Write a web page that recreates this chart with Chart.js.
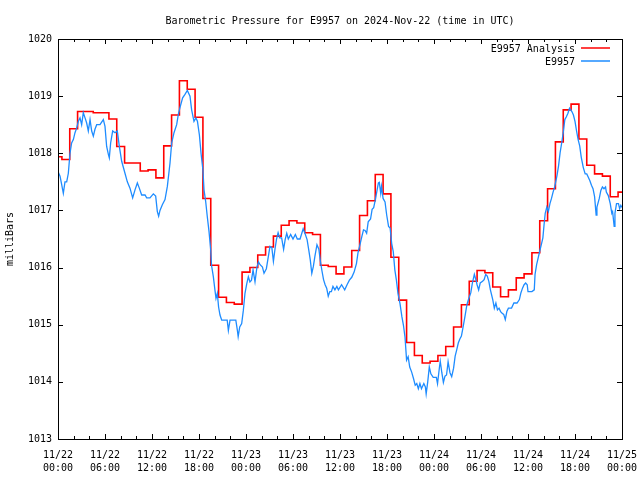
<!DOCTYPE html>
<html>
<head>
<meta charset="utf-8">
<script src="https://cdn.jsdelivr.net/npm/chart.js@4/dist/chart.umd.min.js"></script>
<style>
	html, body { margin: 0; padding: 0; background: #fff; }
	#wrap { width: 640px; height: 480px; }
</style>
</head>
<body>
<div id="wrap"><canvas id="chart" width="640" height="480"></canvas></div>
<script>
// hourly analysis values, hour 0 = 11/22 00:00 UTC
const analysisHours = [
	0, 1, 2, 3, 4, 5, 6, 7, 8, 9, 10, 11, 12, 13, 14, 15, 16, 17, 18, 19, 20, 21, 22, 23,
	24, 25, 26, 27, 28, 29, 30, 31, 32, 33, 34, 35, 36, 37, 38, 39, 40, 41, 42, 43, 44, 45, 46, 47,
	48, 49, 50, 51, 52, 53, 54, 55, 56, 57, 58, 59, 60, 61, 62, 63, 64, 65, 66, 67, 68, 69, 70, 71, 72
];
const analysisPressure = [
	1017.94, 1017.89, 1018.43, 1018.73, 1018.73, 1018.71, 1018.71, 1018.60, 1018.12, 1017.83, 1017.83, 1017.69,
	1017.71, 1017.57, 1018.13, 1018.67, 1019.27, 1019.12, 1018.63, 1017.21, 1016.04, 1015.48, 1015.39, 1015.36,
	1015.92, 1016.00, 1016.22, 1016.36, 1016.55, 1016.74, 1016.82, 1016.78, 1016.61, 1016.58, 1016.04, 1016.02,
	1015.89, 1016.01, 1016.30, 1016.91, 1017.17, 1017.63, 1017.29, 1016.18, 1015.43, 1014.69, 1014.46, 1014.33,
	1014.36, 1014.46, 1014.62, 1014.96, 1015.35, 1015.76, 1015.95, 1015.91, 1015.66, 1015.49, 1015.61, 1015.82,
	1015.89, 1016.26, 1016.82, 1017.38, 1018.20, 1018.76, 1018.86, 1018.25, 1017.79, 1017.64, 1017.60, 1017.24,
	1017.32
];

// station observations
const obsHours = [
	0.0, 0.26, 0.47, 0.68, 0.89, 1.11, 1.32, 1.53, 1.74, 1.96, 2.17, 2.38, 2.6, 2.81, 3.02, 3.23, 3.45, 3.66,
	3.87, 4.09, 4.3, 4.51, 4.72, 4.94, 5.36, 5.79, 6.0, 6.21, 6.43, 6.55, 6.72, 6.98, 7.28, 7.57, 7.83, 8.13,
	8.55, 8.85, 9.19, 9.53, 9.83, 10.13, 10.38, 10.68, 11.11, 11.32, 11.74, 12.17, 12.47, 12.68, 12.85, 13.02,
	13.32, 13.66, 13.96, 14.3, 14.51, 14.81, 15.15, 15.36, 15.57, 15.91, 16.21, 16.51, 16.85, 17.06, 17.36, 17.6,
	17.8, 18.05, 18.26, 18.5, 18.64, 18.85, 19.06, 19.28, 19.5, 19.6, 19.83, 20.04, 20.17, 20.34, 20.5, 20.68,
	20.9, 21.3, 21.6, 21.75, 21.96, 22.4, 22.7, 22.9, 23.0, 23.2, 23.45, 23.66, 23.87, 24.1, 24.3, 24.5,
	24.7, 24.9, 25.15, 25.4, 25.6, 25.8, 26.1, 26.3, 26.6, 26.85, 27.06, 27.3, 27.5, 27.7, 27.9, 28.1,
	28.3, 28.55, 28.8, 29.0, 29.2, 29.4, 29.7, 30.0, 30.3, 30.55, 30.9, 31.3, 31.5, 31.8, 32.0, 32.2,
	32.4, 32.6, 32.8, 33.06, 33.3, 33.5, 33.7, 33.9, 34.1, 34.3, 34.5, 34.7, 34.9, 35.1, 35.35, 35.6,
	35.8, 36.2, 36.6, 36.9, 37.2, 37.5, 37.8, 38.1, 38.3, 38.55, 38.8, 39.0, 39.2, 39.4, 39.6, 39.9,
	40.1, 40.3, 40.5, 40.7, 40.9, 41.02, 41.2, 41.3, 41.5, 41.75, 41.96, 42.2, 42.4, 42.6, 42.8, 43.0,
	43.2, 43.4, 43.66, 43.9, 44.1, 44.3, 44.5, 44.7, 44.9, 45.15, 45.4, 45.6, 45.8, 46.0, 46.2, 46.4,
	46.7, 46.9, 47.0, 47.2, 47.4, 47.6, 47.9, 48.3, 48.45, 48.7, 48.8, 49.0, 49.2, 49.4, 49.6, 49.8,
	50.04, 50.26, 50.5, 50.7, 50.9, 51.1, 51.3, 51.5, 51.7, 51.96, 52.2, 52.4, 52.7, 52.9, 53.15, 53.4,
	53.5, 53.7, 53.9, 54.2, 54.4, 54.6, 54.8, 55.0, 55.2, 55.5, 55.7, 55.9, 56.1, 56.3, 56.5, 56.7,
	56.9, 57.1, 57.3, 57.5, 57.9, 58.2, 58.6, 58.9, 59.1, 59.3, 59.5, 59.7, 59.9, 60.0, 60.5, 60.8,
	60.9, 61.1, 61.3, 61.5, 61.7, 61.9, 62.05, 62.2, 62.4, 62.6, 62.8, 63.0, 63.2, 63.4, 63.7, 63.9,
	64.1, 64.3, 64.5, 64.7, 64.9, 65.1, 65.3, 65.6, 65.8, 66.0, 66.2, 66.4, 66.6, 66.8, 67.06, 67.3,
	67.5, 67.7, 67.9, 68.1, 68.3, 68.5, 68.7, 68.8, 69.1, 69.3, 69.5, 69.7, 69.9, 70.0, 70.25, 70.5,
	70.7, 70.8, 71.0, 71.1, 71.3, 71.55, 71.7, 71.85, 72.0
];
const obsPressure = [
	1017.68, 1017.60, 1017.45, 1017.30, 1017.50, 1017.50, 1017.65, 1018.00, 1018.18, 1018.24, 1018.36, 1018.44,
	1018.56, 1018.62, 1018.50, 1018.71, 1018.62, 1018.53, 1018.39, 1018.59, 1018.39, 1018.30, 1018.42, 1018.50,
	1018.50, 1018.59, 1018.47, 1018.12, 1017.98, 1017.92, 1018.18, 1018.39, 1018.36, 1018.39, 1018.12, 1017.86,
	1017.65, 1017.50, 1017.39, 1017.22, 1017.36, 1017.48, 1017.39, 1017.27, 1017.27, 1017.22, 1017.22, 1017.29,
	1017.25, 1016.98, 1016.90, 1017.00, 1017.10, 1017.19, 1017.42, 1017.83, 1018.18, 1018.36, 1018.50, 1018.68,
	1018.80, 1018.97, 1019.03, 1019.10, 1019.00, 1018.76, 1018.56, 1018.62, 1018.56, 1018.32, 1018.00, 1017.71,
	1017.36, 1017.16, 1016.89, 1016.63, 1016.30, 1016.04, 1015.84, 1015.60, 1015.46, 1015.55, 1015.31, 1015.17,
	1015.08, 1015.08, 1015.08, 1014.90, 1015.08, 1015.08, 1015.08, 1014.90, 1014.79, 1014.96, 1015.02, 1015.25,
	1015.55, 1015.72, 1015.84, 1015.75, 1015.78, 1015.96, 1015.75, 1016.01, 1016.10, 1016.05, 1016.01, 1015.90,
	1015.98, 1016.19, 1016.37, 1016.35, 1016.11, 1016.32, 1016.50, 1016.61, 1016.52, 1016.52, 1016.32, 1016.49,
	1016.60, 1016.50, 1016.58, 1016.50, 1016.58, 1016.50, 1016.50, 1016.68, 1016.61, 1016.49, 1016.32, 1016.14,
	1015.90, 1016.02, 1016.20, 1016.40, 1016.32, 1016.11, 1015.94, 1015.79, 1015.70, 1015.64, 1015.50, 1015.58,
	1015.58, 1015.67, 1015.61, 1015.67, 1015.61, 1015.70, 1015.61, 1015.70, 1015.78, 1015.83, 1015.92, 1016.07,
	1016.26, 1016.40, 1016.55, 1016.66, 1016.65, 1016.60, 1016.80, 1016.85, 1017.02, 1017.05, 1017.18, 1017.33,
	1017.48, 1017.49, 1017.30, 1017.42, 1017.21, 1017.15, 1016.92, 1016.72, 1016.69, 1016.42, 1016.28, 1015.96,
	1015.78, 1015.55, 1015.37, 1015.14, 1014.99, 1014.78, 1014.38, 1014.44, 1014.26, 1014.17, 1014.05, 1013.94,
	1013.97, 1013.88, 1013.97, 1013.88, 1013.97, 1013.91, 1013.79, 1014.00, 1014.26, 1014.14, 1014.08, 1014.08,
	1013.97, 1014.26, 1014.36, 1014.16, 1013.99, 1014.10, 1014.12, 1014.35, 1014.16, 1014.09, 1014.24, 1014.45,
	1014.56, 1014.68, 1014.75, 1014.80, 1014.95, 1015.15, 1015.35, 1015.44, 1015.56, 1015.73, 1015.88, 1015.76,
	1015.70, 1015.61, 1015.73, 1015.76, 1015.79, 1015.88, 1015.85, 1015.76, 1015.61, 1015.44, 1015.29, 1015.38,
	1015.26, 1015.29, 1015.23, 1015.20, 1015.18, 1015.09, 1015.23, 1015.29, 1015.29, 1015.38, 1015.38, 1015.44,
	1015.56, 1015.64, 1015.70, 1015.73, 1015.70, 1015.58, 1015.58, 1015.61, 1015.88, 1016.05, 1016.17, 1016.29,
	1016.40, 1016.52, 1016.75, 1016.95, 1017.06, 1016.98, 1017.12, 1017.21, 1017.32, 1017.41, 1017.61, 1017.78,
	1018.01, 1018.18, 1018.36, 1018.59, 1018.64, 1018.70, 1018.79, 1018.73, 1018.67, 1018.56, 1018.39, 1018.24,
	1018.13, 1017.93, 1017.75, 1017.64, 1017.64, 1017.58, 1017.52, 1017.44, 1017.38, 1017.24, 1016.92, 1017.06,
	1017.21, 1017.35, 1017.41, 1017.38, 1017.41, 1017.32, 1017.26, 1017.12, 1016.95, 1016.98, 1016.72, 1016.95,
	1017.12, 1017.12, 1017.03, 1017.09, 1017.05
];

const xTickLabels = [
	['11/22', '00:00'], ['11/22', '06:00'], ['11/22', '12:00'], ['11/22', '18:00'],
	['11/23', '00:00'], ['11/23', '06:00'], ['11/23', '12:00'], ['11/23', '18:00'],
	['11/24', '00:00'], ['11/24', '06:00'], ['11/24', '12:00'], ['11/24', '18:00'],
	['11/25', '00:00']
];
const yTickLabels = ['1013', '1014', '1015', '1016', '1017', '1018', '1019', '1020'];

const FONT = '"DejaVu Sans Mono", "Liberation Mono", monospace';

function toPoints(xs, ys) {
	return xs.map((x, i) => ({ x: x, y: ys[i] }));
}

// gnuplot style box: inward ticks on all four sides, legend inside top right
const framePlugin = {
	id: 'frame',
	afterDraw(chart) {
		const ctx = chart.ctx;
		const a = chart.chartArea;
		const xs = chart.scales.x;
		const ys = chart.scales.y;
		ctx.save();
		ctx.strokeStyle = '#000';
		ctx.lineWidth = 1;
		ctx.strokeRect(Math.round(a.left) + 0.5, Math.round(a.top) + 0.5,
			Math.round(a.right - a.left), Math.round(a.bottom - a.top));

		ctx.beginPath();
		for (let h = 0; h <= 72; h += 2) {
			const px = Math.round(xs.getPixelForValue(h)) + 0.5;
			const len = h % 6 === 0 ? 5 : 3;
			ctx.moveTo(px, a.bottom);
			ctx.lineTo(px, a.bottom - len);
			ctx.moveTo(px, a.top);
			ctx.lineTo(px, a.top + len);
		}
		for (let v = 1013; v <= 1020; v++) {
			const py = Math.round(ys.getPixelForValue(v)) + 0.5;
			ctx.moveTo(a.left, py);
			ctx.lineTo(a.left + 5, py);
			ctx.moveTo(a.right, py);
			ctx.lineTo(a.right - 5, py);
		}
		ctx.stroke();

		// legend
		ctx.font = '10px ' + FONT;
		ctx.fillStyle = '#000';
		ctx.textAlign = 'right';
		ctx.textBaseline = 'middle';
		const sets = [chart.data.datasets[1], chart.data.datasets[0]];
		sets.forEach((ds, i) => {
			const y = a.top + 10 + i * 13;
			ctx.fillText(ds.label, a.right - 47, y);
			ctx.strokeStyle = ds.borderColor;
			ctx.lineWidth = 1.5;
			ctx.beginPath();
			ctx.moveTo(a.right - 41, y - 1);
			ctx.lineTo(a.right - 12, y - 1);
			ctx.stroke();
		});
		ctx.restore();
	}
};

Chart.defaults.color = '#000';
Chart.defaults.font.family = FONT;
Chart.defaults.font.size = 10;

const chartOptions = {
	type: 'line',
	data: {
		datasets: [
			{
				label: 'E9957',
				data: toPoints(obsHours, obsPressure),
				borderColor: '#1e8cff',
				borderWidth: 1.3,
				pointRadius: 0,
				fill: false,
				tension: 0,
				order: 1,
			},
			{
				label: 'E9957 Analysis',
				data: toPoints(analysisHours, analysisPressure),
				borderColor: '#ff0000',
				borderWidth: 1.6,
				pointRadius: 0,
				fill: false,
				stepped: 'middle',
				order: 2,
			},
		],
	},
	options: {
		responsive: false,
		animation: false,
		devicePixelRatio: 1,
		layout: {
			padding: { left: 0, right: 18, top: 0, bottom: 0 },
		},
		scales: {
			x: {
				type: 'linear',
				min: 0,
				max: 72,
				grid: { display: false, drawTicks: false },
				border: { display: false },
				ticks: {
					stepSize: 6,
					autoSkip: false,
					maxRotation: 0,
					padding: 10,
					font: { size: 10, lineHeight: 1.3 },
					callback: function (value) {
						return xTickLabels[value / 6];
					},
				},
				afterFit: function (scale) {
					scale.height = 41;
					// labels may hang over the edges, like gnuplot
					scale.paddingLeft = 0;
					scale.paddingRight = 0;
				},
			},
			y: {
				min: 1013,
				max: 1020,
				grid: { display: false, drawTicks: false },
				border: { display: false },
				ticks: {
					stepSize: 1,
					padding: 6,
					callback: function (value) {
						return yTickLabels[value - 1013];
					},
				},
				title: {
					display: true,
					text: 'milliBars',
					font: { size: 10 },
					padding: { top: 4, bottom: 0 },
				},
				afterFit: function (scale) {
					scale.width = 58;
				},
			},
		},
		plugins: {
			legend: { display: false },
			tooltip: { enabled: false },
			title: {
				display: true,
				fullSize: false,
				text: 'Barometric Pressure for E9957 on 2024-Nov-22 (time in UTC)',
				font: { size: 10, weight: 'normal' },
				padding: { top: 15, bottom: 12 },
			},
		},
	},
	plugins: [framePlugin],
};

new Chart(document.getElementById('chart'), chartOptions);
</script>
</body>
</html>
